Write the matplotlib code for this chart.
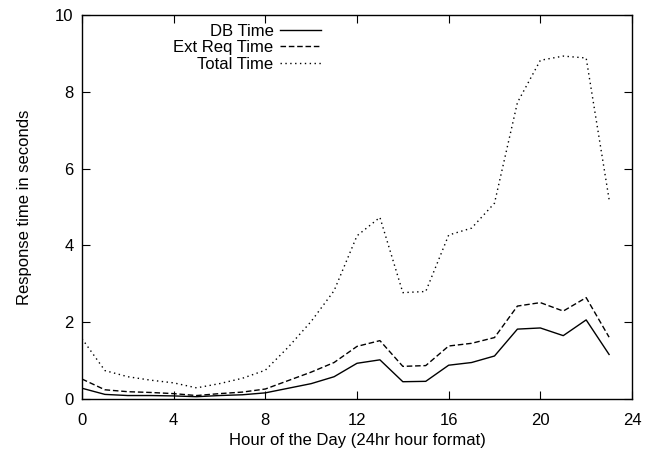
import matplotlib
matplotlib.use("Agg")
import matplotlib.pyplot as plt

hours = list(range(24))
db_time = [0.28, 0.12, 0.09, 0.09, 0.08, 0.06, 0.09, 0.11, 0.16, 0.28, 0.40, 0.58, 0.93, 1.02, 0.45, 0.46,
           0.88, 0.95, 1.12, 1.82, 1.85, 1.65, 2.06, 1.16]
ext_req_time = [0.52, 0.24, 0.19, 0.17, 0.14, 0.09, 0.14, 0.18, 0.26, 0.48, 0.70, 0.95, 1.37, 1.52, 0.85, 0.87,
                1.38, 1.45, 1.60, 2.42, 2.51, 2.29, 2.64, 1.61]
total_time = [1.57, 0.74, 0.58, 0.49, 0.42, 0.29, 0.40, 0.54, 0.75, 1.35, 2.02, 2.82, 4.25, 4.73, 2.77, 2.80,
              4.27, 4.45, 5.10, 7.72, 8.82, 8.93, 8.88, 5.20]

plt.rcParams['font.family'] = ['Liberation Sans', 'DejaVu Sans']

fig = plt.figure(figsize=(6.53, 4.55), dpi=100)
ax = fig.add_axes([82/653, 1-399/455, (632-82)/653, (399-15)/455])

ax.plot(hours, db_time, color='black', lw=1.0, linestyle='-', label='DB Time')
ax.plot(hours, ext_req_time, color='black', lw=1.0, linestyle=(0, (4, 2)), label='Ext Req Time')
ax.plot(hours, total_time, color='black', lw=1.0, linestyle=(0, (1, 2.5)), label='Total Time')

ax.set_xlim(0, 24)
ax.set_ylim(0, 10)
ax.set_xticks([0, 4, 8, 12, 16, 20, 24])
ax.set_yticks([0, 2, 4, 6, 8, 10])
ax.tick_params(direction='in', top=True, right=True, length=6, width=0.8, labelsize=12)
ax.tick_params(axis='x', pad=10)
ax.tick_params(axis='y', pad=6)
for s in ax.spines.values():
    s.set_linewidth(1.0)

ax.set_xlabel('Hour of the Day (24hr hour format)', fontsize=12, labelpad=4)
ax.set_ylabel('Response time in seconds', fontsize=12, labelpad=17)

leg = ax.legend(loc='upper right', bbox_to_anchor=((321-82)/550, (399-24)/384), frameon=False, markerfirst=False,
                fontsize=12, handlelength=2.45, handletextpad=0.4, labelspacing=0.08, borderaxespad=0, borderpad=0)
for t in leg.get_texts():
    t.set_ha('right')
leg._legend_box.align = 'right'

fig.savefig('out.png', dpi=100)
